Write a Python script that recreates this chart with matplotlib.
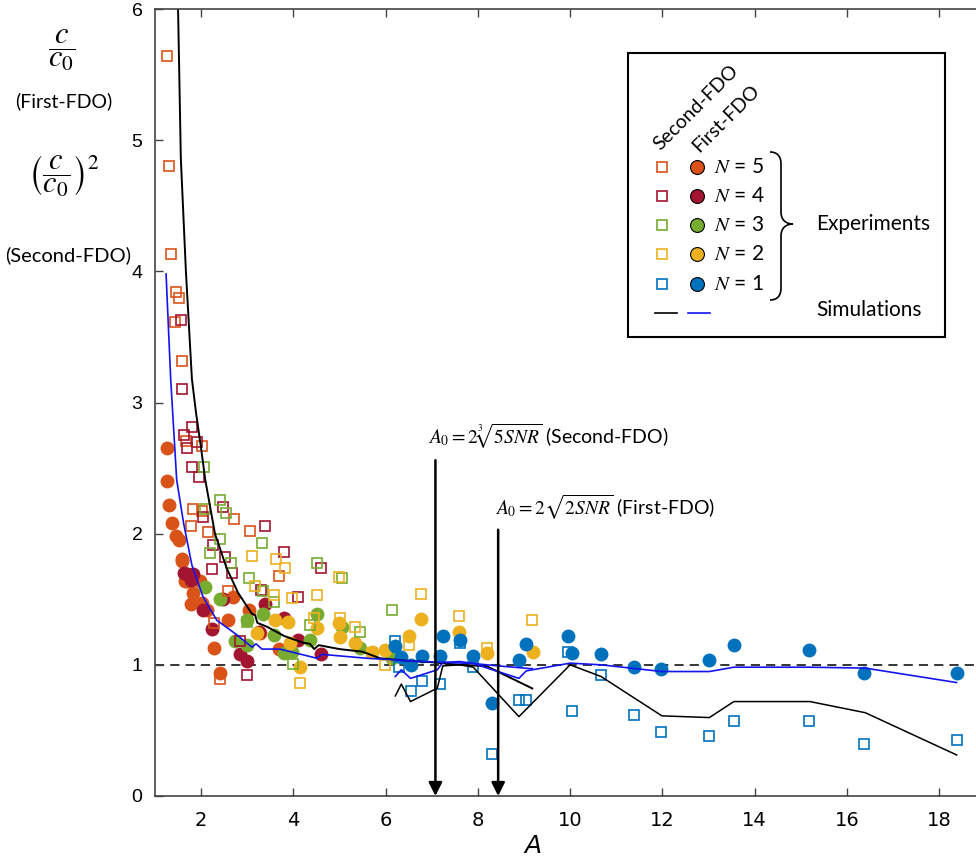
import numpy as np
import matplotlib.pyplot as plt
from matplotlib.lines import Line2D
from matplotlib.patches import Rectangle, PathPatch
from matplotlib.path import Path

plt.rcParams['mathtext.fontset'] = 'stix'
W, H = 976, 856

# colours for N = 1..5 (MATLAB defaults)
col = {1: '#0072BD', 2: '#EDB120', 3: '#77AC30', 4: '#A2142F', 5: '#D95319'}

# ---- First-FDO experiments (filled circles) ----
x5c = [1.26, 1.27, 1.31, 1.36, 1.45, 1.51, 1.59, 1.58, 1.65, 1.69, 1.82, 1.78, 1.98, 2.02, 2.12,
       2.28, 2.40, 2.59, 2.70, 3.04, 3.28, 3.68]
y5c = [2.65, 2.40, 2.22, 2.08, 1.98, 1.95, 1.81, 1.79, 1.64, 1.64, 1.55, 1.46, 1.64, 1.47, 1.42,
       1.13, 0.94, 1.34, 1.52, 1.42, 1.24, 1.12]
x4c = [1.62, 1.69, 1.78, 1.83, 2.05, 2.23, 2.48, 2.85, 2.99, 3.26, 3.39, 3.80, 4.10, 4.60]
y4c = [1.70, 1.69, 1.65, 1.69, 1.42, 1.27, 1.50, 1.08, 1.03, 1.25, 1.46, 1.36, 1.19, 1.08]
x3c = [2.09, 2.41, 2.74, 2.99, 2.99, 3.35, 3.57, 3.79, 3.97, 4.36, 4.51, 5.05, 5.45, 6.14]
y3c = [1.59, 1.50, 1.18, 1.34, 1.15, 1.39, 1.23, 1.09, 1.10, 1.19, 1.39, 1.29, 1.13, 1.05]
x2c = [3.21, 3.61, 3.89, 3.93, 4.15, 4.51, 4.98, 5.01, 5.34, 5.70, 5.99, 6.51, 6.77, 7.60, 8.19, 9.20]
y2c = [1.24, 1.34, 1.33, 1.17, 0.98, 1.28, 1.32, 1.21, 1.17, 1.10, 1.11, 1.22, 1.35, 1.25, 1.09, 1.10]
x1c = [6.21, 6.34, 6.54, 6.79, 7.18, 7.24, 7.61, 7.90, 8.30, 8.89, 9.05, 9.95, 10.05, 10.68,
       11.39, 11.97, 13.02, 13.55, 15.19, 16.38, 18.39]
y1c = [1.14, 1.06, 1.00, 1.07, 1.07, 1.22, 1.19, 1.07, 0.71, 1.04, 1.16, 1.22, 1.09, 1.08,
       0.98, 0.97, 1.04, 1.15, 1.11, 0.94, 0.94]

# ---- Second-FDO experiments (open squares) ----
x5s = [1.27, 1.31, 1.35, 1.45, 1.53, 1.44, 1.58, 1.67, 2.02, 1.82, 2.02, 1.78, 2.72, 3.05, 2.14,
       3.68, 2.40, 2.59, 2.28]
y5s = [5.64, 4.80, 4.13, 3.84, 3.80, 3.61, 3.32, 2.71, 2.67, 2.19, 2.17, 2.06, 2.11, 2.02, 2.01,
       1.68, 0.89, 1.56, 1.32]
x4s = [1.56, 1.58, 1.81, 1.63, 1.69, 1.91, 1.80, 1.96, 2.48, 2.05, 3.39, 2.25, 2.51, 2.67, 2.23,
       3.80, 4.60, 4.10, 3.29, 2.99, 2.85]
y4s = [3.63, 3.10, 2.81, 2.75, 2.65, 2.70, 2.51, 2.43, 2.20, 2.13, 2.06, 1.91, 1.82, 1.70, 1.73,
       1.86, 1.74, 1.52, 1.57, 0.92, 1.18]
x3s = [2.07, 2.09, 2.42, 2.54, 2.40, 2.20, 2.65, 3.03, 3.32, 2.99, 3.35, 3.58, 4.35, 4.51, 5.05,
       5.45, 3.99, 6.14]
y3s = [2.51, 2.19, 2.26, 2.16, 1.96, 1.85, 1.78, 1.66, 1.93, 1.33, 1.56, 1.48, 1.30, 1.78, 1.66,
       1.25, 1.01, 1.42]
x2s = [3.10, 3.16, 3.62, 3.82, 3.59, 3.97, 4.52, 4.45, 4.98, 5.02, 5.34, 5.70, 5.99, 4.15, 6.51,
       6.77, 7.60, 8.19, 9.18]
y2s = [1.83, 1.60, 1.81, 1.74, 1.53, 1.51, 1.53, 1.36, 1.67, 1.36, 1.29, 1.09, 1.00, 0.86, 1.15,
       1.54, 1.37, 1.13, 1.34]
x1s = [6.21, 6.29, 6.54, 6.79, 7.18, 7.61, 7.90, 8.30, 8.89, 9.05, 9.95, 10.05, 10.68, 11.39,
       11.97, 13.02, 13.55, 15.19, 16.38, 18.39]
y1s = [1.18, 0.98, 0.80, 0.88, 0.855, 1.17, 0.985, 0.32, 0.73, 0.735, 1.10, 0.65, 0.92, 0.62,
       0.49, 0.46, 0.57, 0.57, 0.395, 0.43]

# ---- simulations ----
sim2_x = [1.46, 1.50, 1.56, 1.67, 1.80, 1.89, 2.00, 2.09, 2.30, 2.55, 2.80, 3.10, 3.17, 3.22, 3.43,
          3.80, 4.20, 4.36, 4.45, 4.55, 5.00, 5.50, 5.88, 6.50, 7.00, 7.60, 8.19, 9.18]
sim2_y = [6.50, 6.00, 4.86, 4.00, 3.18, 2.92, 2.65, 2.41, 2.00, 1.74, 1.55, 1.39, 1.38, 1.32, 1.29,
          1.22, 1.17, 1.16, 1.12, 1.15, 1.12, 1.10, 1.05, 1.03, 1.02, 1.00, 0.99, 0.82]
sim2_n1x = [6.21, 6.34, 6.54, 7.12, 7.24, 7.61, 7.90, 8.89, 10.0, 10.67, 11.99, 13.02, 13.55,
            15.2, 16.4, 18.38]
sim2_n1y = [0.763, 0.853, 0.72, 0.822, 0.992, 1.0, 0.982, 0.605, 1.0, 0.911, 0.611, 0.598, 0.72,
            0.72, 0.635, 0.313]
sim1_x = [1.24, 1.34, 1.47, 1.62, 1.80, 2.04, 2.34, 2.77, 3.10, 3.19, 3.32, 3.71, 4.51, 4.62, 5.59,
          6.10, 6.50, 7.20, 7.90, 8.50, 9.18]
sim1_y = [3.98, 3.18, 2.41, 2.08, 1.76, 1.52, 1.34, 1.23, 1.135, 1.16, 1.12, 1.12, 1.05, 1.08, 1.05,
          1.04, 1.03, 1.02, 1.01, 0.99, 0.97]
sim1_n1x = [6.21, 6.34, 6.54, 7.12, 7.24, 7.61, 7.90, 8.89, 9.05, 10.0, 10.67, 11.99, 13.02,
            13.55, 15.2, 16.4, 18.38]
sim1_n1y = [0.911, 0.962, 0.897, 0.962, 1.018, 1.025, 1.01, 0.897, 0.954, 1.013, 1.0, 0.949,
            0.949, 0.982, 0.982, 0.975, 0.865]

# threshold amplitudes A0 (Second-FDO, First-FDO)
a0 = [7.08, 8.44]

circles = {5: (x5c, y5c), 4: (x4c, y4c), 3: (x3c, y3c), 2: (x2c, y2c), 1: (x1c, y1c)}
squares = {5: (x5s, y5s), 4: (x4s, y4s), 3: (x3s, y3s), 2: (x2s, y2s), 1: (x1s, y1s)}


def fp(px, py):
    return px / W, 1 - py / H


fig = plt.figure(figsize=(W / 100, H / 100), dpi=100)
ax = fig.add_axes([155 / W, 1 - 796 / H, 1 - 155 / W, (796 - 9) / H])

for n in [5, 4, 3, 2, 1]:
    xs, ys = circles[n]
    ax.plot(xs, ys, 'o', ls='none', ms=10, mfc=col[n], mec='none')
for n in [5, 4, 3, 2, 1]:
    xs, ys = squares[n]
    ax.plot(xs, ys, 's', ls='none', ms=7.5, mfc='none', mec=col[n], mew=1.2)

ax.plot(sim2_x, sim2_y, color='k', lw=1.4)
ax.plot(sim2_n1x, sim2_n1y, color='k', lw=1.1)
ax.plot(sim1_x, sim1_y, color='#1414F0', lw=1.2)
ax.plot(sim1_n1x, sim1_n1y, color='#1414F0', lw=1.2)

ax.axhline(1, color='k', ls=(0, (6, 4)), lw=1.1, zorder=1)

# A0 arrows and formulas
for xa, ytop in zip(a0, [2.56, 2.03]):
    ax.annotate('', xy=(xa, 0), xytext=(xa, ytop),
                arrowprops=dict(arrowstyle='-|>', lw=1.8, color='k', mutation_scale=20,
                                shrinkA=0, shrinkB=0))
ax.text(6.92, 2.74, r'$A_0=2\sqrt[3]{5SNR}$ (Second-FDO)', fontsize=14, family='Lato',
        va='center', ha='left')
ax.text(8.38, 2.20, r'$A_0=2\sqrt{2SNR}$ (First-FDO)', fontsize=14, family='Lato',
        va='center', ha='left')

ax.set_xlim(1, 18.8)
ax.set_ylim(0, 6)
ax.set_xticks(range(2, 19, 2))
ax.set_yticks(range(0, 7))
ax.tick_params(direction='in', top=True, right=False, length=6, width=1, color='#444')
ax.tick_params(axis='x', pad=11, labelsize=14)
ax.tick_params(axis='y', pad=9, labelsize=14)
for lab in ax.get_xticklabels():
    lab.set_family(['Liberation Sans Narrow', 'DejaVu Sans'])
for lab in ax.get_yticklabels():
    lab.set_family(['Liberation Sans', 'DejaVu Sans'])
for s in ['left', 'bottom', 'top']:
    ax.spines[s].set_color('#444')
    ax.spines[s].set_linewidth(1.2)
ax.spines['right'].set_visible(False)
ax.set_xlabel('A', fontsize=18, style='italic', family=['Liberation Sans Narrow', 'DejaVu Sans'])
ax.xaxis.set_label_coords(0.46, -0.048)

# y-axis labels
fig.text(*fp(62, 50), r'$\dfrac{c}{c_0}$', fontsize=22, ha='center', va='center')
fig.text(*fp(64, 101), '(First-FDO)', fontsize=14, family='Lato', ha='center', va='center')
fig.text(*fp(64, 176), r'$\left(\dfrac{c}{c_0}\right)^2$', fontsize=22, ha='center', va='center')
fig.text(*fp(68, 255), '(Second-FDO)', fontsize=14.5, family='Lato', ha='center', va='center')

# legend box
x0, y0 = fp(628, 337)
x1, y1 = fp(945, 53)
fig.add_artist(Rectangle((x0, y0), x1 - x0, y1 - y0, transform=fig.transFigure,
                         fc='white', ec='k', lw=1.5, zorder=5))
fig.text(*fp(660, 151), 'Second-FDO', rotation=45, rotation_mode='anchor', fontsize=14,
         family='Lato', ha='left', va='baseline', zorder=6)
fig.text(*fp(699, 153), 'First-FDO', rotation=45, rotation_mode='anchor', fontsize=14,
         family='Lato', ha='left', va='baseline', zorder=6)
rows = [167, 196, 225, 254, 284]
for n, py in zip([5, 4, 3, 2, 1], rows):
    xm, ym = fp(662, py)
    fig.add_artist(Line2D([xm], [ym], marker='s', ms=7, mfc='none', mec=col[n], mew=1.2,
                          transform=fig.transFigure, zorder=6))
    xm, ym = fp(697, py)
    fig.add_artist(Line2D([xm], [ym], marker='o', ms=10, mfc=col[n], mec='k', mew=0.8,
                          transform=fig.transFigure, zorder=6))
    fig.text(*fp(714, py), r'$N$ = %d' % n, fontsize=15, family='Lato', ha='left',
             va='center', zorder=6)

xa, ya = fp(655, 313)
xb, yb = fp(677, 313)
fig.add_artist(Line2D([xa, xb], [ya, yb], color='k', lw=1.2, transform=fig.transFigure, zorder=6))
xa, ya = fp(688, 313)
xb, yb = fp(710, 313)
fig.add_artist(Line2D([xa, xb], [ya, yb], color='#1414F0', lw=1.2, transform=fig.transFigure,
                      zorder=6))

# brace
bp = [(770, 152), (777, 152), (781, 156), (781, 164), (781, 212),
      (781, 220), (786, 224), (793, 224),
      (786, 224), (781, 228), (781, 236), (781, 288),
      (781, 296), (777, 300), (770, 300)]
codes = [Path.MOVETO, Path.CURVE4, Path.CURVE4, Path.CURVE4, Path.LINETO,
         Path.CURVE4, Path.CURVE4, Path.CURVE4,
         Path.CURVE4, Path.CURVE4, Path.CURVE4, Path.LINETO,
         Path.CURVE4, Path.CURVE4, Path.CURVE4]
verts = [fp(px, py) for px, py in bp]
fig.add_artist(PathPatch(Path(verts, codes), fc='none', ec='k', lw=1.2,
                         transform=fig.transFigure, zorder=6))
fig.text(*fp(816, 224), 'Experiments', fontsize=15, family='Lato', ha='left', va='center', zorder=6)
fig.text(*fp(816, 310), 'Simulations', fontsize=15, family='Lato', ha='left', va='center', zorder=6)

fig.savefig('out.png', dpi=100)
